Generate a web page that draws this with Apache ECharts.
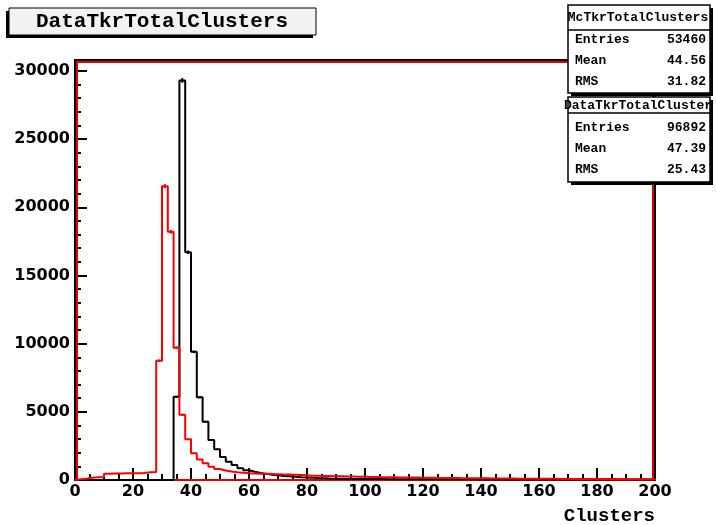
<!DOCTYPE html>
<html>
<head>
<meta charset="utf-8">
<script src="https://cdn.jsdelivr.net/npm/echarts@6/dist/echarts.min.js"></script>
<style>
html,body{margin:0;padding:0;background:#fff;}
#c{width:716px;height:525px;}
</style>
</head>
<body>
<div id="c"></div>
<script>
// ---- data (bin width 2, range 0..200, 100 bins) ----
const xMin = 0, xMax = 200, binWidth = 2;
const xTicks = [0, 20, 40, 60, 80, 100, 120, 140, 160, 180, 200];
const yTicks = [0, 5000, 10000, 15000, 20000, 25000, 30000];
const yMax = 30800;

// black histogram (DataTkrTotalClusters)
const dataCounts = [
  0,0,0,0,0,0,0,0,0,0,
  0,0,0,0,0,0,0,6100,29300,16700,
  9400,6060,4280,2930,2250,1680,1340,1100,870,720,
  610,520,450,390,340,300,270,230,200,180,
  160,140,125,110,100,92,85,80,76,72,
  70,68,66,64,62,60,58,57,56,55,
  54,53,52,51,50,49,48,47,46,45,
  45,44,44,43,43,42,42,41,41,40,
  40,39,39,38,38,37,37,36,36,35,
  35,34,34,33,33,32,32,31,31,30
];
// red histogram (McTkrTotalClusters)
const mcCounts = [
  60,100,170,200,220,450,470,480,490,490,
  500,510,560,580,8750,21550,18200,9700,4780,2980,
  1960,1510,1220,980,810,700,620,560,530,500,
  480,460,450,440,430,410,400,380,360,340,
  320,310,300,290,280,270,260,250,240,230,
  220,215,210,200,195,190,185,180,175,170,
  165,160,155,150,145,140,135,130,128,125,
  122,118,115,112,110,105,100,98,95,92,
  90,88,85,82,80,78,76,74,72,70,
  68,66,65,64,62,60,60,58,56,55
];
const statsMc = {title: 'McTkrTotalClusters', rows: [['Entries','53460'],['Mean','44.56'],['RMS','31.82']]};
const statsData = {title: 'DataTkrTotalCluster', rows: [['Entries','96892'],['Mean','47.39'],['RMS','25.43']]};
const padTitle = 'DataTkrTotalClusters';
const xTitle = 'Clusters';

// ---- build ----
function stepData(vals){
  const d = [[xMin, 0]];
  vals.forEach((v, i) => d.push([xMin + i * binWidth, v]));
  d.push([xMax, vals[vals.length - 1]]);
  d.push([xMax, 0]);
  return d;
}
function errData(vals){
  return vals.map((v, i) => [xMin + (i + 0.5) * binWidth, v]);
}
const minorY = [];
for (let i = 0; i < yTicks.length - 1; i++) {
  const a = yTicks[i], b = yTicks[i + 1];
  for (let k = 0; k <= 5; k++) minorY.push(a + (b - a) * k / 5);
}

const G = {left: 75, top: 60, width: 580, height: 420};
const tickFont = {fontFamily: 'DejaVu Sans', fontWeight: 'bold', fontSize: 16, color: '#000'};
const mono = 'Liberation Mono';

function errSeries(vals, color){
  return {
    type: 'custom', data: errData(vals), xAxisIndex: 0, yAxisIndex: 0, z: 3,
    renderItem: function(params, api){
      const x = api.value(0), v = api.value(1);
      if (v <= 0) return null;
      const e = Math.sqrt(v);
      const p1 = api.coord([x, v - e]), p2 = api.coord([x, v + e]);
      return {type: 'line', shape: {x1: p1[0], y1: p1[1], x2: p2[0], y2: p2[1]},
        style: {stroke: color, lineWidth: 2}};
    }
  };
}

function statsBox(st, x, y, w, h, lineY, rowYs, headerY){
  const els = [];
  els.push({type: 'rect', shape: {x: x + 3, y: y + 3, width: w, height: h}, style: {fill: '#000'}});
  els.push({type: 'rect', shape: {x: x, y: y, width: w, height: h}, style: {fill: '#fff', stroke: '#000', lineWidth: 1.5}});
  els.push({type: 'line', shape: {x1: x, y1: lineY, x2: x + w, y2: lineY}, style: {stroke: '#000', lineWidth: 1.5}});
  els.push({type: 'text', style: {text: st.title, x: x + w / 2 - 1, y: headerY, align: 'center', verticalAlign: 'middle',
    fontFamily: mono, fontWeight: 'bold', fontSize: 13, fill: '#000'}});
  st.rows.forEach((r, i) => {
    els.push({type: 'text', style: {text: r[0], x: x + 7, y: rowYs[i], align: 'left', verticalAlign: 'middle',
      fontFamily: mono, fontWeight: 'bold', fontSize: 13, fill: '#000'}});
    els.push({type: 'text', style: {text: r[1], x: x + w - 4, y: rowYs[i], align: 'right', verticalAlign: 'middle',
      fontFamily: mono, fontWeight: 'bold', fontSize: 13, fill: '#000'}});
  });
  return els;
}

const graphics = [
  // red inner frame
  {type: 'rect', z: 1, silent: true, shape: {x: G.left + 2, y: G.top + 2, width: G.width - 4, height: G.height - 2},
    style: {fill: 'none', stroke: '#e00000', lineWidth: 2}},
  // pad title
  {type: 'rect', z: 100, shape: {x: 6, y: 11, width: 307, height: 27}, style: {fill: '#000'}},
  {type: 'rect', z: 100, shape: {x: 9, y: 8, width: 307, height: 27}, style: {fill: '#f2f2f2', stroke: '#000', lineWidth: 1}},
  {type: 'text', z: 101, style: {text: padTitle, x: 162, y: 21.5, align: 'center', verticalAlign: 'middle',
    fontFamily: mono, fontWeight: 'bold', fontSize: 21, fill: '#000'}},
  // x title
  {type: 'text', z: 100, style: {text: xTitle, x: 655, y: 516, align: 'right', verticalAlign: 'middle',
    fontFamily: mono, fontWeight: 'bold', fontSize: 19, fill: '#000'}}
];
statsBox(statsMc, 568, 5, 142, 88, 30, [40, 61, 82], 17.5).forEach(e => { e.z = 110; graphics.push(e); });
statsBox(statsData, 568, 97, 142, 85, 113, [128, 149, 170], 106).forEach(e => { e.z = 120; graphics.push(e); });

const chart = echarts.init(document.getElementById('c'), null, {renderer: 'canvas'});
chart.setOption({
  animation: false,
  backgroundColor: '#fff',
  grid: {left: G.left, top: G.top, width: G.width, height: G.height, show: true,
    borderColor: '#000', borderWidth: 2, backgroundColor: 'transparent'},
  xAxis: {
    type: 'value', min: xMin, max: xMax, interval: 20,
    axisLine: {show: true, onZero: false, lineStyle: {color: '#000', width: 2}},
    axisTick: {show: true, inside: true, length: 12, lineStyle: {color: '#000', width: 2}},
    minorTick: {show: true, splitNumber: 4, length: 6, lineStyle: {color: '#000', width: 2}},
    splitLine: {show: false}, minorSplitLine: {show: false},
    axisLabel: Object.assign({margin: 4, formatter: v => (xTicks.indexOf(v) >= 0 ? String(v) : '')}, tickFont)
  },
  yAxis: [{
    type: 'value', min: 0, max: yMax,
    axisLine: {show: true, onZero: false, lineStyle: {color: '#000', width: 2}},
    axisTick: {show: true, inside: true, length: 12, customValues: yTicks, lineStyle: {color: '#000', width: 2}},
    splitLine: {show: false},
    axisLabel: Object.assign({margin: 5, customValues: yTicks, formatter: v => String(v)}, tickFont)
  }, {
    type: 'value', min: 0, max: yMax, position: 'left',
    axisLine: {show: false},
    axisTick: {show: true, inside: true, length: 6, customValues: minorY, lineStyle: {color: '#000', width: 2}},
    splitLine: {show: false},
    axisLabel: {show: false}
  }],
  graphic: graphics,
  series: [
    {name: 'DataTkrTotalClusters', type: 'line', step: 'end', data: stepData(dataCounts),
      showSymbol: false, symbol: 'none', z: 2, lineStyle: {color: '#000', width: 2}, itemStyle: {color: '#000'}},
    errSeries(dataCounts, '#000'),
    {name: 'McTkrTotalClusters', type: 'line', step: 'end', data: stepData(mcCounts),
      showSymbol: false, symbol: 'none', z: 4, lineStyle: {color: '#ff0000', width: 2}, itemStyle: {color: '#ff0000'}},
    errSeries(mcCounts, '#ff0000')
  ]
});
</script>
</body>
</html>
